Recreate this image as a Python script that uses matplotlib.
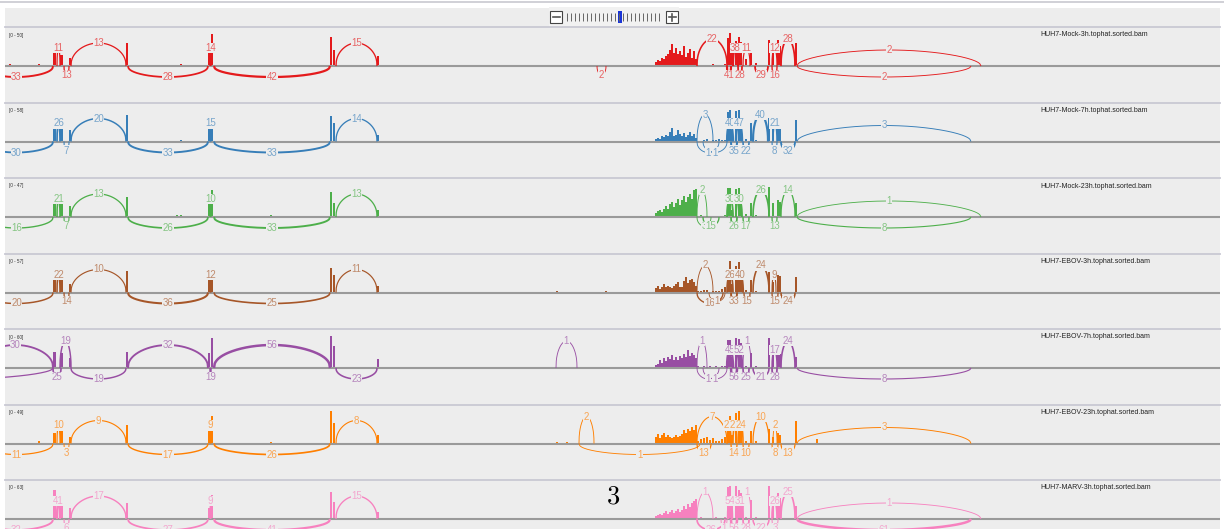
import matplotlib.pyplot as plt
import numpy as np
from matplotlib.patches import Rectangle
from matplotlib.colors import to_rgb

W, H = 1224, 529
BG = '#ededed'

track_names = ['HUH7-Mock-3h.tophat.sorted.bam', 'HUH7-Mock-7h.tophat.sorted.bam',
               'HUH7-Mock-23h.tophat.sorted.bam', 'HUH7-EBOV-3h.tophat.sorted.bam',
               'HUH7-EBOV-7h.tophat.sorted.bam', 'HUH7-EBOV-23h.tophat.sorted.bam',
               'HUH7-MARV-3h.tophat.sorted.bam']
track_ranges = [50, 58, 47, 57, 60, 49, 63]
track_colors = ['#e41a1c', '#377eb8', '#4daf4a', '#a65628', '#984ea3', '#ff7f00', '#f781bf']

# exon blocks (genome position, screen-scaled)
exon_lo = [53, 60, 69, 126, 208, 211, 330, 333, 377,
           727, 729, 731, 735, 738, 740, 745, 750, 755, 768, 772, 777, 779, 795]
exon_hi = [57, 64, 71, 128, 210, 214, 333, 336, 379,
           729, 731, 733, 738, 740, 743, 748, 753, 757, 771, 775, 779, 782, 797]

cov_mock3h  = [20, 17, 12, 35, 24, 48, 44, 24, 15, 43, 50, 30, 38, 44, 36, 10, 25, 4, 39, 26, 40, 30, 35]
cov_mock7h  = [28, 26, 21, 47, 28, 30, 44, 33, 12, 52, 56, 20, 54, 56, 42, 5, 33, 3, 42, 22, 33, 30, 38]
cov_mock23h = [27, 25, 16, 28, 25, 38, 36, 20, 10, 41, 42, 10, 40, 41, 30, 4, 20, 3, 43, 20, 24, 22, 20]
cov_ebov3h  = [29, 27, 15, 38, 25, 38, 42, 30, 12, 35, 55, 15, 45, 53, 35, 4, 21, 3, 35, 18, 30, 28, 26]
cov_ebov7h  = [29, 27, 18, 29, 27, 55, 58, 40, 16, 51, 51, 20, 55, 52, 45, 4, 27, 3, 55, 30, 27, 25, 20]
cov_ebov23h = [16, 24, 9, 27, 22, 41, 49, 30, 12, 34, 41, 12, 45, 49, 19, 3, 19, 3, 22, 10, 15, 12, 34]
cov_marv3h  = [55, 31, 21, 31, 21, 46, 52, 32, 13, 61, 63, 25, 63, 55, 50, 4, 36, 3, 63, 30, 50, 40, 25]

# dense coverage window 655-697 (2-unit bins)
noise_start, noise_bin = 655, 2
noise_mock3h  = [6, 9, 8, 12, 10, 15, 18, 24, 33, 20, 27, 18, 22, 17, 30, 14, 20, 25, 12, 22, 10]
noise_mock7h  = [4, 7, 5, 9, 8, 12, 10, 16, 23, 9, 12, 20, 14, 10, 15, 8, 12, 16, 9, 14, 7]
noise_mock23h = [5, 8, 10, 7, 12, 15, 11, 18, 22, 14, 20, 26, 17, 24, 30, 21, 28, 33, 25, 38, 40]
noise_ebov3h  = [8, 12, 6, 10, 14, 9, 12, 10, 8, 11, 14, 18, 10, 9, 20, 26, 17, 22, 24, 18, 12]
noise_ebov7h  = [5, 8, 14, 10, 18, 12, 20, 16, 24, 15, 20, 14, 22, 18, 26, 20, 33, 22, 28, 24, 18]
noise_ebov23h = [10, 14, 8, 12, 16, 9, 12, 10, 8, 10, 12, 9, 11, 14, 20, 16, 22, 18, 24, 20, 28]
noise_marv3h  = [6, 8, 10, 8, 12, 16, 10, 14, 18, 12, 16, 20, 14, 18, 24, 20, 28, 22, 30, 34, 38]

# low coverage stretch 697-727 (3-unit bins)
low_start, low_bin = 697, 3
low_mock3h  = [2, 1, 2, 1, 1, 3, 2, 1, 2, 3]
low_mock7h  = [1, 0, 2, 4, 1, 3, 2, 4, 3, 2]
low_mock23h = [2, 3, 2, 1, 2, 1, 0, 1, 2, 3]
low_ebov3h  = [3, 2, 4, 4, 1, 2, 3, 2, 6, 10]
low_ebov7h  = [3, 2, 4, 2, 3, 1, 3, 2, 4, 3]
low_ebov23h = [4, 6, 8, 10, 5, 8, 4, 3, 6, 10]
low_marv3h  = [2, 3, 1, 2, 2, 1, 3, 2, 2, 4]

# scattered single reads
stray_pos = [9, 38, 176, 180, 270, 541, 556, 566, 605, 611, 816]
stray_mock3h  = [3, 3, 2, 3, 1, 2, 0, 1, 1, 1, 1]
stray_mock7h  = [0, 0, 0, 2, 1, 0, 1, 0, 0, 0, 1]
stray_mock23h = [0, 2, 3, 3, 3, 2, 2, 1, 1, 0, 0]
stray_ebov3h  = [0, 1, 0, 0, 0, 0, 2, 0, 2, 0, 0]
stray_ebov7h  = [1, 0, 0, 0, 2, 2, 0, 1, 0, 1, 1]
stray_ebov23h = [0, 3, 0, 0, 2, 0, 2, 2, 0, 0, 7]
stray_marv3h  = [0, 0, 0, 1, 1, 1, 0, 0, 1, 0, 1]

# splice junctions: (start, end, read count, +1 above / -1 below)
junc_mock3h = [(-20, 53, 33, -1), (57, 60, 11, 1), (64, 69, 13, -1), (71, 126, 13, 1),
               (128, 208, 28, -1), (210, 211, 14, 1), (214, 330, 42, -1), (336, 377, 15, 1),
               (597, 606, 2, -1), (697, 727, 22, 1), (733, 738, 38, 1), (727, 731, 41, -1),
               (738, 742, 28, -1), (743, 750, 11, 1), (755, 768, 29, -1), (772, 777, 16, -1),
               (772, 777, 12, 1), (781, 795, 28, 1), (797, 981, 2, 1), (797, 971, 2, -1)]
junc_mock7h = [(-20, 53, 30, -1), (57, 60, 26, 1), (64, 69, 7, -1), (71, 126, 20, 1),
               (128, 208, 33, -1), (210, 211, 15, 1), (214, 330, 33, -1), (336, 377, 14, 1),
               (697, 713, 3, 1), (697, 719, 1, -1), (703, 727, 1, -1), (727, 733, 40, 1),
               (736, 742, 47, 1), (731, 737, 35, -1), (743, 749, 22, -1), (753, 768, 40, 1),
               (773, 777, 21, 1), (772, 777, 8, -1), (781, 795, 32, -1), (797, 971, 3, 1)]
junc_mock23h = [(-20, 53, 16, -1), (57, 60, 21, 1), (64, 69, 7, -1), (71, 126, 13, 1),
                (128, 208, 26, -1), (210, 211, 10, 1), (214, 330, 33, -1), (336, 377, 13, 1),
                (697, 707, 2, 1), (697, 711, 3, -1), (703, 719, 15, -1), (727, 733, 30, 1),
                (736, 742, 30, 1), (731, 737, 26, -1), (743, 749, 17, -1), (753, 769, 26, 1),
                (772, 777, 13, -1), (781, 795, 14, 1), (797, 981, 1, 1), (797, 971, 8, -1)]
junc_ebov3h = [(-20, 53, 20, -1), (57, 60, 22, 1), (64, 69, 14, -1), (71, 126, 10, 1),
               (128, 208, 36, -1), (210, 211, 12, 1), (214, 330, 25, -1), (336, 377, 11, 1),
               (697, 713, 2, 1), (697, 723, 16, -1), (709, 725, 1, -1), (727, 733, 26, 1),
               (737, 743, 40, 1), (731, 737, 33, -1), (744, 750, 15, -1), (753, 769, 24, 1),
               (772, 776, 9, 1), (772, 778, 15, -1), (781, 795, 24, -1)]
junc_ebov7h = [(-22, 53, 30, 1), (-140, 53, 12, -1), (60, 71, 19, 1), (53, 61, 25, -1),
               (71, 126, 19, -1), (128, 208, 32, 1), (214, 330, 56, 1), (210, 211, 19, -1),
               (336, 377, 23, -1), (556, 577, 1, 1), (697, 707, 1, 1), (697, 719, 1, -1),
               (703, 727, 1, -1), (727, 733, 45, 1), (736, 742, 52, 1), (743, 751, 1, 1),
               (731, 737, 56, -1), (743, 749, 25, -1), (753, 769, 21, -1), (772, 777, 17, 1),
               (772, 777, 28, -1), (781, 795, 24, 1), (797, 971, 8, -1)]
junc_ebov23h = [(-20, 53, 11, -1), (57, 60, 10, 1), (64, 69, 3, -1), (71, 126, 9, 1),
                (128, 208, 17, -1), (210, 211, 9, 1), (214, 330, 26, -1), (336, 377, 8, 1),
                (579, 594, 2, 1), (579, 700, 1, -1), (697, 727, 7, 1), (697, 711, 13, -1),
                (727, 731, 22, 1), (733, 737, 22, 1), (739, 743, 24, 1), (731, 737, 14, -1),
                (743, 749, 10, -1), (753, 769, 10, 1), (773, 777, 2, 1), (772, 778, 8, -1),
                (781, 795, 13, -1), (797, 971, 3, 1)]
junc_marv3h = [(-20, 53, 32, -1), (57, 60, 41, 1), (64, 69, 6, -1), (71, 126, 17, 1),
               (128, 208, 27, -1), (210, 211, 9, 1), (214, 330, 41, -1), (336, 377, 15, 1),
               (697, 713, 1, 1), (697, 725, 26, -1), (721, 727, 1, -1), (728, 732, 54, 1),
               (737, 743, 31, 1), (743, 751, 1, 1), (731, 737, 56, -1), (743, 749, 28, -1),
               (753, 769, 22, -1), (772, 777, 26, 1), (772, 778, 3, -1), (781, 795, 25, 1),
               (797, 981, 1, 1), (797, 971, 61, -1)]

coverage = [cov_mock3h, cov_mock7h, cov_mock23h, cov_ebov3h, cov_ebov7h, cov_ebov23h, cov_marv3h]
noise = [noise_mock3h, noise_mock7h, noise_mock23h, noise_ebov3h, noise_ebov7h, noise_ebov23h, noise_marv3h]
lows = [low_mock3h, low_mock7h, low_mock23h, low_ebov3h, low_ebov7h, low_ebov23h, low_marv3h]
strays = [stray_mock3h, stray_mock7h, stray_mock23h, stray_ebov3h, stray_ebov7h, stray_ebov23h, stray_marv3h]
junctions = [junc_mock3h, junc_mock7h, junc_mock23h, junc_ebov3h, junc_ebov7h, junc_ebov23h, junc_marv3h]

LABEL_FONT = ['Liberation Sans', 'DejaVu Sans']


def arc_height(span, side):
    # pixel height of a junction arc
    if side > 0:
        if span < 8:
            return 18
        if span <= 35:
            return 27
        if span < 150:
            return 23
        return 16
    return 9 if span < 20 else 11


def lighter(c, amount=0.35):
    a = np.array(to_rgb(c))
    b = np.array(to_rgb(BG))
    return tuple(a * (1 - amount) + b * amount)


fig = plt.figure(figsize=(W / 100, H / 100), dpi=100)
fig.patch.set_facecolor('white')

# frame layer in pixel coordinates
frame = fig.add_axes([0, 0, 1, 1])
frame.set_xlim(0, W)
frame.set_ylim(H, 0)
frame.axis('off')
frame.add_patch(Rectangle((5, 8), 1215, H, fc=BG, ec='none'))
frame.plot([0, W], [2, 2], color='#c8c8d0', lw=1.2)

# zoom widget
frame.add_patch(Rectangle((549, 7), 130, 21, fc='#f1f1f1', ec='none'))
frame.add_patch(Rectangle((550, 11), 12, 12, fc='white', ec='#444', lw=0.8))
frame.add_patch(Rectangle((666, 11), 12, 12, fc='white', ec='#444', lw=0.8))
frame.plot([552.5, 559.5], [17, 17], color='#555', lw=1.2)
frame.plot([668.5, 675.5], [17, 17], color='#555', lw=1.2)
frame.plot([672, 672], [13.5, 20.5], color='#555', lw=1.2)
frame.vlines(np.arange(567, 663, 4), 13, 21, color='#666', lw=0.7)
frame.add_patch(Rectangle((618, 11), 4, 12, fc='#1a35d6', ec='none'))

track_h = 75.5
for i in range(7):
    sep = 27 + track_h * i
    frame.plot([5, 1220], [sep, sep], color='#c9c9d3', lw=1.3)

    rmax = track_ranges[i]
    k = rmax / 33.0  # counts per pixel
    color = track_colors[i]
    ax = fig.add_axes([5 / W, 1 - (sep + track_h) / H, 1215 / W, track_h / H])
    ax.set_xlim(5, 1220)
    ax.set_ylim(-36.5 * k, 39 * k)
    ax.axis('off')
    ax.patch.set_alpha(0)

    # coverage
    widths = np.subtract(exon_hi, exon_lo)
    ax.bar(exon_lo, coverage[i], width=widths * 0.8, align='edge',
           color=color, linewidth=0, zorder=2)
    nx = noise_start + noise_bin * np.arange(len(noise[i]))
    ax.bar(nx, noise[i], width=noise_bin * 0.75, align='edge', color=color, linewidth=0, zorder=2)
    lx = low_start + low_bin * np.arange(len(lows[i]))
    ax.bar(lx, lows[i], width=low_bin * 0.5, align='edge', color=color, linewidth=0, zorder=2)
    ax.bar(stray_pos, strays[i], width=1.5, align='edge', color=color, linewidth=0, zorder=2)

    ax.axhline(0, color='#9a9a9a', lw=1.5, zorder=3)

    ax.text(9, 31 * k, f'[0 - {rmax}]', fontsize=3.3, color='#333', va='center',
            family=LABEL_FONT, zorder=3)
    ax.text(1040, 31 * k, track_names[i], fontsize=5, color='#222', va='center',
            family=LABEL_FONT, zorder=3)

    # junction arcs
    for s, e, n, side in junctions[i]:
        span = e - s
        h = arc_height(span, side) * k * side
        t = np.linspace(0, 1, 160)
        p = 0.5 if span > 150 else 0.42
        xs = s + span * t
        ys = h * np.sin(np.pi * t) ** p
        lw = 0.6 + 1.2 * min(n, 50) / 50
        ax.plot(xs, ys, color=color, lw=lw, solid_capstyle='butt', zorder=4)
        ax.text((s + e) / 2, h, str(n), ha='center', va='center', fontsize=7,
                color=lighter(color), family=LABEL_FONT, clip_on=True, zorder=5,
                bbox=dict(boxstyle='square,pad=0.05', fc=BG, ec='none'))

fig.text(613 / W, 1 - 497 / H, r'$3$', fontsize=19, ha='center', va='center',
         math_fontfamily='cm', color='black')

plt.savefig('out.png', dpi=100, facecolor='white')
